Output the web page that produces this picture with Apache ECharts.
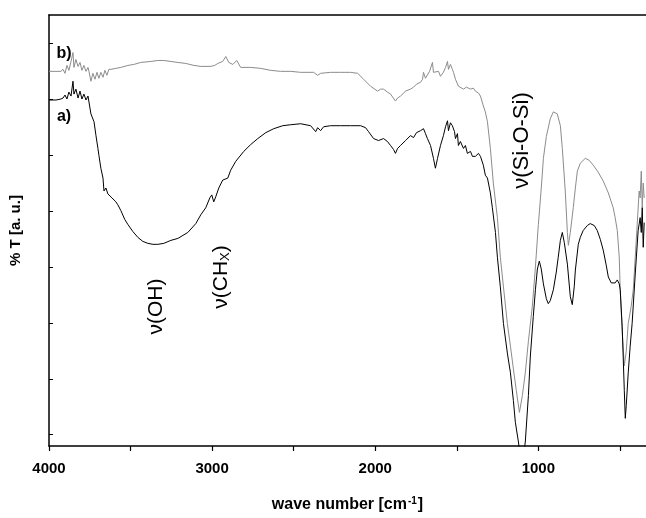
<!DOCTYPE html>
<html><head><meta charset="utf-8">
<script src="https://cdn.jsdelivr.net/npm/echarts@6/dist/echarts.min.js"></script>
<style>html,body{margin:0;padding:0;background:#fff}#c{width:646px;height:518px}</style>
</head><body><div id="c"></div>
<script>
// wavenumber [cm^-1], transmittance [a.u.]
const waveA = [4000,3957,3927,3914,3902,3890,3878,3865,3853,3847,3835,3822,3810,3798,3786,3773,3761,3749,3743,3724,3712,3700,3694,3682,3669,3663,3651,3639,3627,3614,3602,3590,3578,3559,3535,3516,3486,3455,3425,3394,3363,3333,3296,3253,3210,3149,3100,3069,3039,3014,3002,2990,2978,2959,2935,2904,2886,2855,2806,2763,2720,2671,2622,2567,2518,2457,2396,2365,2353,2335,2316,2274,2212,2151,2090,2059,2041,2010,1980,1949,1925,1906,1888,1876,1863,1845,1814,1784,1765,1747,1735,1722,1704,1692,1680,1661,1643,1631,1618,1600,1582,1569,1557,1551,1539,1527,1514,1508,1496,1490,1478,1459,1447,1435,1416,1404,1386,1367,1355,1337,1325,1312,1294,1282,1263,1251,1233,1214,1190,1171,1153,1141,1122,1110,1092,1080,1061,1049,1031,1018,1006,994,982,969,951,939,927,908,890,878,865,853,841,822,804,792,780,773,755,743,725,700,682,657,639,620,602,584,571,553,541,529,516,504,498,486,480,473,467,461,449,437,425,406,388,376,369,363,357,351];
const transA = [350,350,351,352,355,351,358,354,369,356,361,352,359,351,356,350,354,353,336,328,314,301,294,281,271,258,261,255,257,251,253,247,244,238,229,224,217,211,207,205,204,204,205,208,210,216,225,234,241,251,254,247,252,261,269,271,279,288,298,305,311,317,321,324,325,326,324,318,322,319,323,324,324,324,324,322,318,311,309,311,308,304,300,296,301,304,309,314,312,317,315,319,321,316,311,304,291,281,291,304,314,323,329,319,327,324,318,311,316,304,308,301,304,296,298,293,293,296,293,284,274,271,256,241,216,191,161,124,94,74,46,24,4,-11,-11,4,51,91,131,158,179,187,179,164,149,144,147,158,176,191,208,216,206,184,151,143,161,178,204,211,218,223,225,223,218,209,198,183,171,165,163,165,168,164,158,121,91,56,28,41,74,101,124,174,218,231,216,241,201,226];
const waveB = [4000,3957,3927,3914,3902,3890,3878,3865,3853,3847,3835,3822,3810,3798,3786,3773,3761,3755,3743,3731,3718,3706,3694,3682,3669,3657,3645,3633,3620,3590,3559,3516,3480,3437,3376,3333,3296,3253,3210,3161,3112,3069,3008,2984,2965,2935,2916,2898,2873,2849,2825,2763,2702,2641,2580,2518,2457,2378,2353,2335,2274,2212,2151,2108,2071,2029,1986,1967,1949,1925,1906,1876,1863,1845,1814,1784,1765,1747,1735,1722,1710,1704,1692,1680,1667,1655,1649,1643,1631,1612,1600,1582,1569,1557,1551,1539,1527,1520,1508,1490,1478,1459,1441,1416,1398,1386,1367,1355,1337,1325,1312,1294,1276,1251,1233,1214,1190,1171,1153,1135,1116,1098,1080,1061,1037,1018,1000,982,969,951,927,908,896,884,865,853,835,822,816,804,786,773,761,743,712,688,663,633,602,571,541,529,516,504,498,486,473,461,449,431,418,406,394,382,376,369,363,357,351];
const transB = [379,379,379,381,377,385,380,389,398,383,391,384,388,380,385,379,383,379,369,377,371,378,372,378,373,380,375,381,381,382,383,385,386,388,389,390,390,389,388,387,385,384,384,385,387,389,394,388,386,390,383,383,382,380,379,379,378,378,375,377,378,378,378,377,371,364,359,361,361,358,356,349,352,354,359,361,363,366,364,368,371,378,372,374,379,381,388,378,376,379,374,378,383,389,381,386,381,378,371,364,366,361,363,361,362,359,357,354,344,338,328,301,266,231,191,161,124,101,78,56,34,51,74,106,141,181,224,261,291,313,331,338,339,336,324,301,258,216,203,216,241,261,278,286,291,289,284,277,268,256,241,231,218,191,158,116,81,96,124,141,158,191,224,258,251,278,241,266,251];
const xTickValues = [4000,3500,3000,2500,2000,1500,1000,500];
const xLabelValues = [4000,3000,2000,1000];
const yTickValues = [11.5,68,124.5,181,237.5,294,350.5,407];
const seriesNames = ['a)', 'b)'];

const zip = (xs, ys) => xs.map((x, i) => [x, ys[i]]);
const FONT = '"Liberation Sans", Arial, sans-serif';
const chart = echarts.init(document.getElementById('c'), null, {renderer: 'canvas'});
const option = {
  animation: false,
  backgroundColor: '#fff',
  grid: {left: 48, right: 0, top: 15, bottom: 67},
  xAxis: [{
    type: 'value', inverse: true, min: 340, max: 4000,
    axisLine: {show: true, lineStyle: {color: '#000', width: 1.5}},
    axisTick: {show: true, inside: false, length: 5, customValues: xTickValues, lineStyle: {color: '#000', width: 1.2}},
    axisLabel: {show: true, customValues: xLabelValues, margin: 15, color: '#000', fontFamily: FONT, fontWeight: 'bold', fontSize: 15,
      formatter: v => String(v)},
    splitLine: {show: false},
    name: '{a|wave number [cm}{s|-1}{a|]}',
    nameLocation: 'middle', nameGap: 50,
    nameTextStyle: {rich: {
      a: {fontFamily: FONT, fontWeight: 'bold', fontSize: 16, color: '#000'},
      s: {fontFamily: FONT, fontWeight: 'bold', fontSize: 10, color: '#000', verticalAlign: 'top', padding: [0, 1, 8, 1]}
    }}
  }, {
    type: 'value', inverse: true, min: 340, max: 4000, position: 'top',
    axisLine: {show: true, lineStyle: {color: '#000', width: 1.5}},
    axisTick: {show: false}, axisLabel: {show: false}, splitLine: {show: false}
  }],
  yAxis: {
    type: 'value', min: 0, max: 436,
    axisLine: {show: true, lineStyle: {color: '#000', width: 1.5}},
    axisTick: {show: true, inside: true, length: 4, customValues: yTickValues, lineStyle: {color: '#000'}},
    axisLabel: {show: false},
    splitLine: {show: false},
    name: '% T [a. u.]', nameLocation: 'middle', nameGap: 26,
    nameTextStyle: {fontFamily: FONT, fontWeight: 'bold', fontSize: 15, color: '#000'}
  },
  series: [
    {name: seriesNames[1], type: 'line', data: zip(waveB, transB), showSymbol: false, symbol: 'none',
     lineStyle: {color: '#8c8c8c', width: 1}, clip: true},
    {name: seriesNames[0], type: 'line', data: zip(waveA, transA), showSymbol: false, symbol: 'none',
     lineStyle: {color: '#000', width: 1}, clip: true}
  ]
};
chart.setOption(option);

// annotations anchored in data coordinates
const annotations = [
  {text: '{b|b)}', at: [3908, 397], rot: 0},
  {text: '{b|a)}', at: [3908, 333], rot: 0},
  {text: '{n|ν(OH)}', at: [3345, 141], rot: Math.PI / 2},
  {text: '{n|ν(CH}{s|X}{n|)}', at: [2947, 171], rot: Math.PI / 2},
  {text: '{m|ν(Si-O-Si)}', at: [1098, 309], rot: Math.PI / 2}
];
const rich = {
  b: {fontFamily: FONT, fontWeight: 'bold', fontSize: 16, color: '#000'},
  n: {fontFamily: FONT, fontSize: 21, color: '#000'},
  m: {fontFamily: FONT, fontSize: 22, color: '#000'},
  s: {fontFamily: FONT, fontSize: 13, color: '#000', verticalAlign: 'bottom', padding: [9, 0, 0, 0]}
};
chart.setOption({
  graphic: annotations.map(a => {
    const p = chart.convertToPixel({gridIndex: 0}, a.at);
    return {type: 'text', x: p[0], y: p[1], rotation: a.rot,
      style: {text: a.text, rich: rich, align: 'center', verticalAlign: 'middle'}};
  })
});
</script></body></html>
